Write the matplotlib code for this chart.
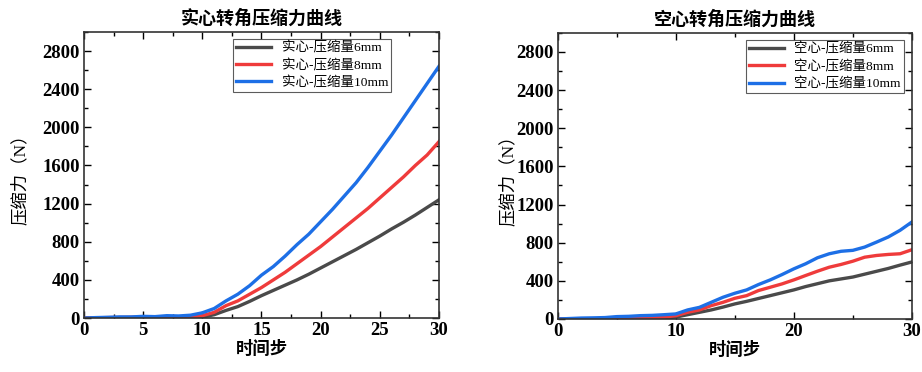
import numpy as np
import matplotlib
matplotlib.use("Agg")
import matplotlib.pyplot as plt
from matplotlib.ticker import MultipleLocator

plt.rcParams['font.family'] = ['Liberation Serif', 'Noto Sans CJK SC']
plt.rcParams['axes.unicode_minus'] = False

# --- data ---
t = np.arange(0, 31)

solid_6 = [0, 2, 3, 5, 5, 8, 8, 10, 10, 5, 10, 35, 80, 120, 175, 235, 290, 345, 400, 460,
           525, 590, 655, 720, 790, 860, 935, 1005, 1080, 1160, 1240]
solid_8 = [0, 3, 5, 6, 8, 10, 10, 12, 12, 10, 25, 60, 130, 180, 250, 320, 400, 480, 570, 660,
           750, 850, 950, 1050, 1150, 1260, 1370, 1480, 1600, 1710, 1850]
solid_10 = [0, 5, 8, 12, 12, 18, 15, 25, 22, 30, 55, 100, 180, 250, 340, 450, 540, 650, 770, 880,
            1010, 1140, 1280, 1420, 1580, 1750, 1920, 2100, 2280, 2460, 2640]

hollow_6 = [0, 1, 2, 3, 4, 5, 6, 8, 10, 12, 20, 45, 70, 95, 125, 158, 185, 215, 245, 275,
            305, 340, 370, 400, 420, 440, 470, 500, 530, 565, 598]
hollow_8 = [0, 1, 2, 3, 4, 5, 8, 12, 15, 20, 35, 70, 95, 140, 175, 217, 245, 298, 333, 368,
            410, 456, 501, 543, 572, 606, 648, 666, 677, 684, 726]
hollow_10 = [0, 5, 10, 12, 15, 25, 28, 35, 38, 45, 53, 95, 122, 175, 228, 270, 305, 361, 410, 466,
             526, 579, 642, 684, 710, 720, 754, 806, 860, 930, 1017]

colors = ['#4a4a4a', '#ef3b3b', '#1d6fe6']

fig = plt.figure(figsize=(9.22, 3.72), dpi=100)
ax1 = fig.add_axes([0.0911, 0.145, 0.385, 0.769])
ax2 = fig.add_axes([0.605, 0.1425, 0.384, 0.769])


def style_axes(ax, title, prefix, series, xmajor, xminor, legend_x, ylabel_x):
    for s, c, lab in zip(series, colors, ['6mm', '8mm', '10mm']):
        ax.plot(t, s, color=c, lw=2.4, label=prefix + '-压缩量' + lab)
    ax.set_xlim(0, 30)
    ax.set_ylim(0, 3000)
    ax.xaxis.set_major_locator(MultipleLocator(xmajor))
    ax.xaxis.set_minor_locator(MultipleLocator(xminor))
    ax.yaxis.set_major_locator(MultipleLocator(400))
    ax.yaxis.set_minor_locator(MultipleLocator(200))
    ax.set_yticks(np.arange(0, 2801, 400))
    ax.tick_params(which='both', direction='in', top=True, right=True, width=1.0)
    ax.tick_params(which='major', length=5, labelsize=13.5, pad=3)
    ax.tick_params(which='minor', length=3)
    for lab in ax.get_xticklabels() + ax.get_yticklabels():
        lab.set_fontweight('bold')
    for sp in ax.spines.values():
        sp.set_linewidth(1.2)
        sp.set_color('#333333')
    ax.set_title(title, fontsize=13, fontweight='bold', pad=6)
    ax.set_xlabel('时间步', fontsize=12.5, fontweight='bold', labelpad=1)
    ax.set_ylabel('压缩力（N）', fontsize=12.5)
    ax.yaxis.set_label_coords(ylabel_x, 0.5)
    leg = ax.legend(loc='upper left', bbox_to_anchor=(legend_x, 0.975), fontsize=9.7,
                    frameon=True, fancybox=False, edgecolor='#333333', handlelength=2.6,
                    borderpad=0.2, labelspacing=0.3, handletextpad=0.8, borderaxespad=0)
    leg.get_frame().set_linewidth(0.8)


style_axes(ax1, '实心转角压缩力曲线', '实心', [solid_6, solid_8, solid_10], 5, 2.5, 0.42, -0.155)
style_axes(ax2, '空心转角压缩力曲线', '空心', [hollow_6, hollow_8, hollow_10], 10, 5, 0.531, -0.115)

fig.savefig('out.png', dpi=100)
